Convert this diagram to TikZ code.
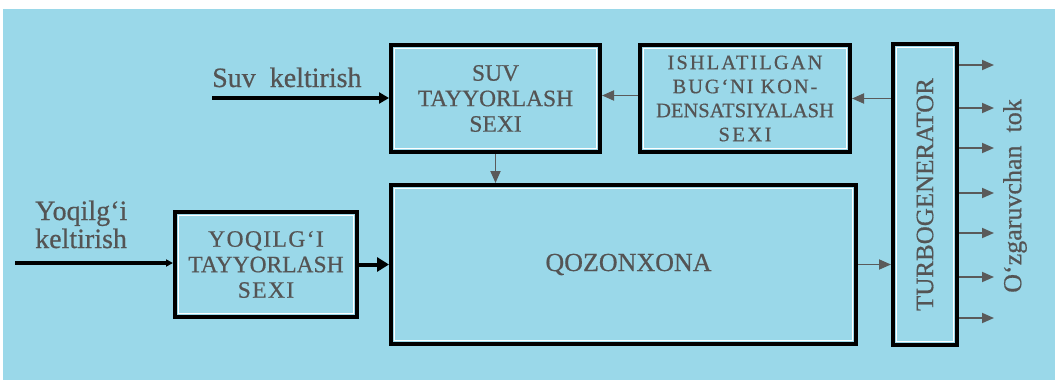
\documentclass[tikz,border=0pt]{standalone}
\usepackage{fontspec}
\setmainfont{Liberation Serif}
\usetikzlibrary{arrows.meta,calc}
\definecolor{bgblue}{RGB}{154,216,233}
\definecolor{txtgray}{RGB}{84,84,84}
\definecolor{arrgray}{RGB}{90,90,90}
\newcommand{\spc}[2]{{\addfontfeature{LetterSpace=#1}#2}}
\newcommand{\fb}{\addfontfeature{FakeBold=0.6}}
\begin{document}
\begin{tikzpicture}[x=1pt,y=-1pt,
  blockbox/.style={draw=black, line width=4pt, inner sep=0pt, align=center,
    text=txtgray, font=\fontsize{23.5}{25.5}\selectfont\fb,
    path picture={\draw[white, line width=1.1pt]
      ([shift={(3.6pt,-3.6pt)}]path picture bounding box.north west) rectangle
      ([shift={(-3.6pt,3.6pt)}]path picture bounding box.south east);}},
  lbl/.style={text=txtgray, inner sep=0pt, align=left, font=\fontsize{28}{28}\selectfont\fb},
  grayarr/.style={draw=arrgray, line width=1.8pt, -{Triangle[length=12pt,width=10pt]}},
  thickarr/.style={draw=black, line width=4pt, -{Triangle[length=10pt,width=11pt]}}
]
\useasboundingbox (0,0) rectangle (1055,380);
\fill[white] (0,0) rectangle (1055,380);
\fill[bgblue] (3,9) rectangle (1055,380);

% blocks
\node[blockbox, minimum width=209pt, minimum height=107pt] (suv) at (495.5,98.5)
  {SUV\\TAYYORLASH\\SEXI};
\node[blockbox, minimum width=210pt, minimum height=107pt,
  font=\fontsize{20.5}{24}\selectfont\fb] (ish) at (745,98.5)
  {\spc{10}{ISHLATILGAN}\\\spc{9}{BUG‘NI KON-}\\DENSATSIYALASH\\\spc{12}{SEXI}};
\node[blockbox, minimum width=465pt, minimum height=159pt,
  font=\fontsize{26}{28}\selectfont\fb] (qoz) at (623.5,264.5) {\hspace*{10pt}QOZONXONA};
\node[blockbox, minimum width=182pt, minimum height=105pt] (yoq) at (266,264.5)
  {\spc{6}{YOQILG‘I}\\TAYYORLASH\\\spc{6}{SEXI}};
\node[blockbox, minimum width=64pt, minimum height=301pt] (turbo) at (925,194.5) {};
\node[rotate=90, text=txtgray, inner sep=0pt, font=\fontsize{25}{28}\selectfont\fb]
  (turbotxt) at (turbo.center) {TURBOGENERATOR};

% labels
\node[lbl, anchor=base west] (suvlbl) at (212,87) {Suv\ \ keltirish};
\node[lbl, anchor=base west] (yoqlbl1) at (35,220) {Yoqilg‘i};
\node[lbl, anchor=base west] (yoqlbl2) at (35,248) {keltirish};
\node[rotate=90, text=txtgray, inner sep=0pt, font=\fontsize{26}{28}\selectfont\fb]
  (toklbl) at (1015,196) {O‘zgaruvchan\ \ tok};

% input coordinates
\coordinate (suvin) at (212,98);
\coordinate (yoqin) at (15,263);

% connectors
\draw[thickarr] (suvin) -- (suv.west |- suvin);
\draw[draw=black, line width=4pt, -{Triangle[length=7pt,width=7pt]}] (yoqin) -- (yoq.west |- yoqin);
\draw[thickarr, -{Triangle[length=12pt,width=14pt]}] (yoq.east) -- (qoz.west |- yoq.east);
\draw[grayarr] ($(ish.west)+(0,-3)$) -- ($(suv.east)+(0,-3)$);
\draw[grayarr] (turbo.west |- ish.east) -- (ish.east);
\draw[grayarr] (suv.south) -- (suv.south |- qoz.north);
\draw[grayarr] (qoz.east) -- (qoz.east -| turbo.west);

% outputs
\foreach \i/\yy in {1/65,2/108,3/148,4/193,5/233,6/277,7/318}{
  \coordinate (o\i) at (994,\yy);
  \draw[grayarr] (turbo.east |- o\i) -- (o\i);
}
\end{tikzpicture}
\end{document}
